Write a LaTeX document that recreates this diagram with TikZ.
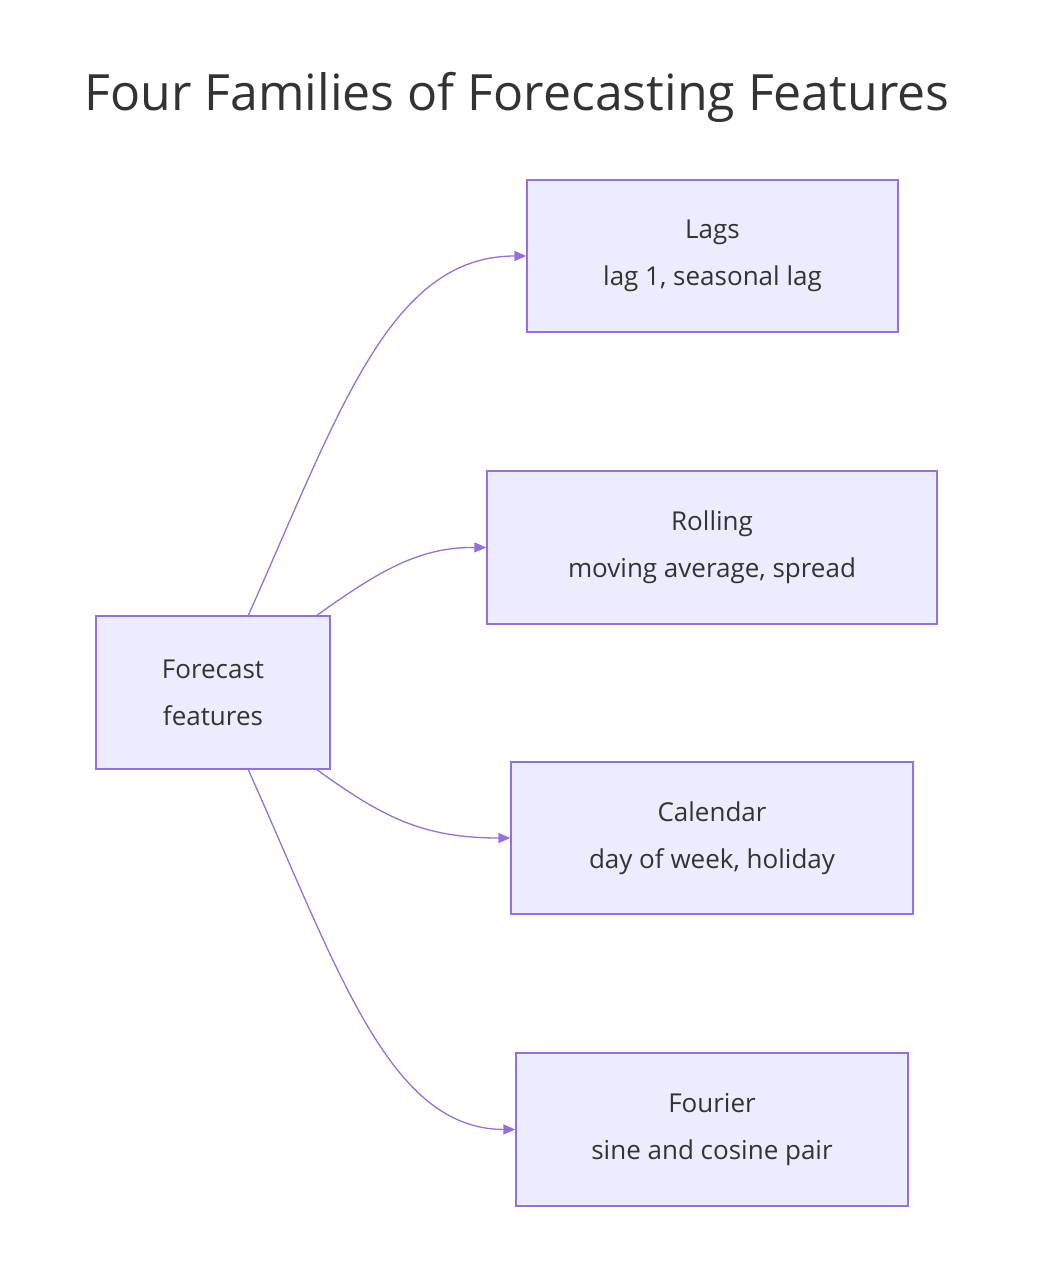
\documentclass[tikz,border=0pt]{standalone}
\usepackage{fontspec}
\setmainfont{Open Sans}
\usetikzlibrary{arrows.meta}
\definecolor{nfill}{HTML}{ECECFF}
\definecolor{nline}{HTML}{9370DB}
\definecolor{txt}{HTML}{333333}
\begin{document}
\begin{tikzpicture}[x=1pt,y=-1pt,
  box/.style={draw=nline,fill=nfill,line width=1.3pt,inner sep=0pt,align=center,text=txt,font=\fontsize{26}{47}\selectfont},
  edge/.style={draw=nline,line width=1.3pt,-{Triangle[length=12pt,width=10pt]}}]
\useasboundingbox (0,0) rectangle (1050,1282);
\node[text=txt,font=\fontsize{50}{60}\selectfont] (title) at (517,97) {Four Families of Forecasting Features};
\node[box,minimum width=234pt,minimum height=153pt] (f) at (213,692.5) {Forecast\\features};
\node[box,minimum width=371pt,minimum height=152pt] (lags) at (712.5,256) {Lags\\lag 1, seasonal lag};
\node[box,minimum width=450pt,minimum height=153pt] (roll) at (712,547.5) {Rolling\\moving average, spread};
\node[box,minimum width=402pt,minimum height=152pt] (cal) at (712,838) {Calendar\\day of week, holiday};
\node[box,minimum width=392pt,minimum height=153pt] (four) at (712,1129.5) {Fourier\\sine and cosine pair};
\coordinate (a1) at (248,616);
\coordinate (a2) at (316,616);
\coordinate (a3) at (316,769);
\coordinate (a4) at (248,769);
\draw[edge] (a1) .. controls (340,410) and (390,256) .. (lags.west);
\draw[edge] (a2) .. controls (380,570) and (420,547) .. (roll.west);
\draw[edge] (a3) .. controls (380,815) and (420,838) .. (cal.west);
\draw[edge] (a4) .. controls (340,975) and (390,1129) .. (four.west);
\end{tikzpicture}
\end{document}
